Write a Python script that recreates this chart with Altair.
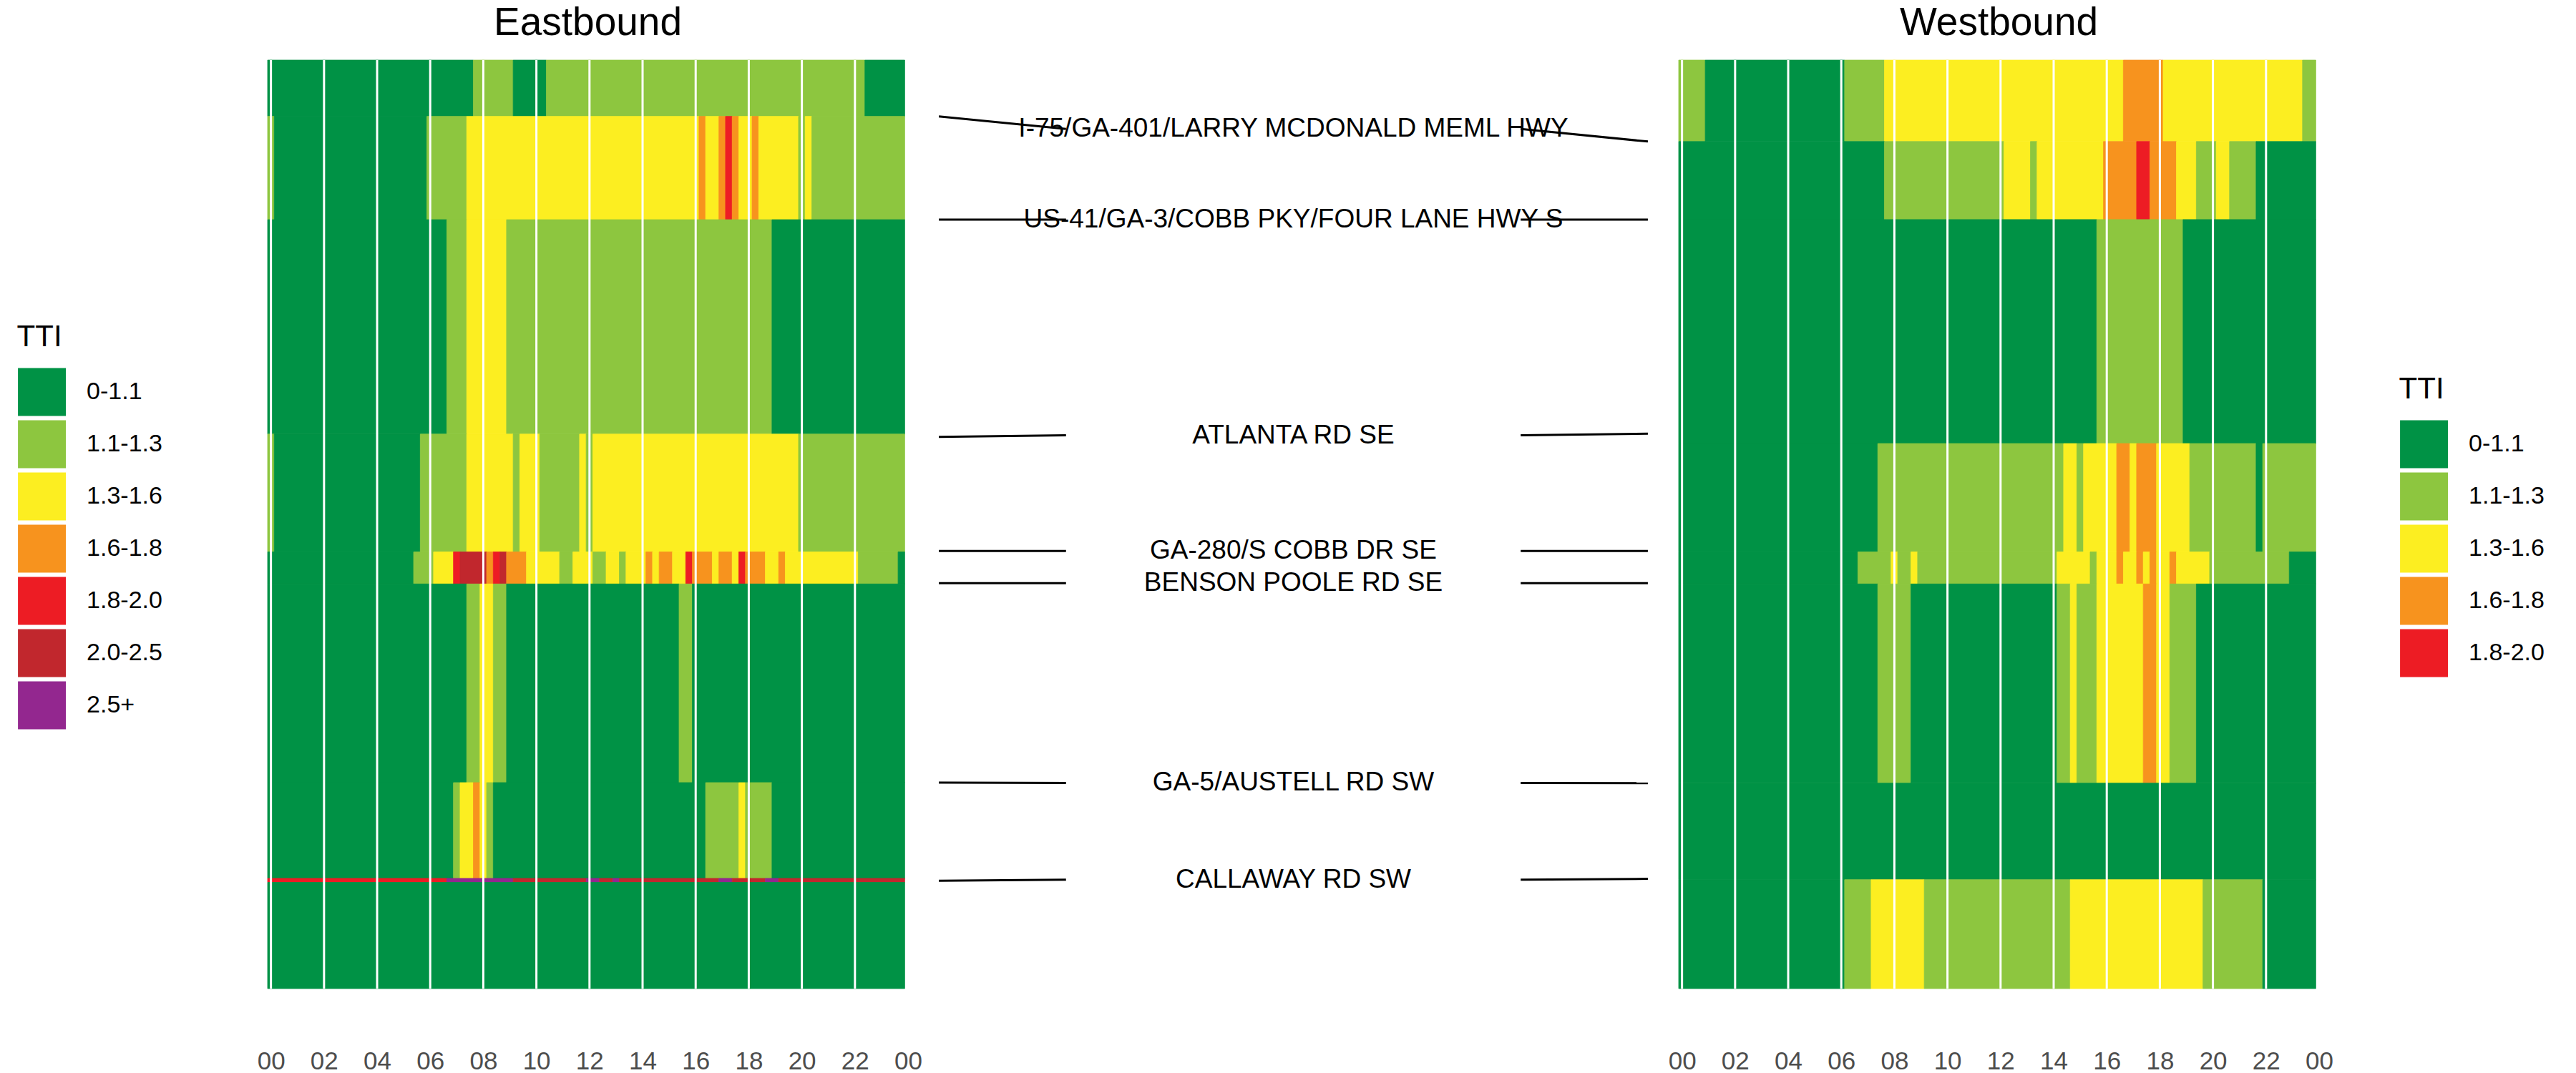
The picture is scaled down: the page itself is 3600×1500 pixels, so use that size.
import altair as alt
import pandas as pd

# ---------------- data ----------------
LEVELS = ["0-1.1", "1.1-1.3", "1.3-1.6", "1.6-1.8", "1.8-2.0", "2.0-2.5", "2.5+"]
COLORS = ["#009245", "#8DC63F", "#FCEE21", "#F7931E", "#ED1C24", "#C1272D", "#93278F"]

# segment boundaries (miles along corridor, top to bottom)
EB_EDGES = [0, 0.393, 1.115, 2.613, 3.436, 3.66, 5.048, 5.717, 5.745, 6.487]
WB_EDGES = [0, 0.569, 1.114, 2.679, 3.436, 3.66, 5.052, 5.726, 6.487]

# runs of 15-minute intervals starting at 00:00: (TTI level index, number of intervals)
EB_ROW1 = [(0, 31), (1, 6), (0, 5), (1, 48), (0, 6)]
EB_ROW2 = [(1, 1), (0, 23), (1, 6), (2, 35), (3, 1), (2, 2), (3, 1), (4, 1), (3, 1), (2, 2),
           (3, 1), (2, 6), (1, 1), (2, 1), (1, 14)]
EB_ROW3 = [(0, 27), (1, 3), (2, 6), (1, 40), (0, 20)]
EB_ROW4 = [(1, 1), (0, 22), (1, 7), (2, 7), (1, 1), (2, 3), (1, 6), (2, 1), (1, 1), (2, 31), (1, 16)]
EB_ROW5 = [(0, 22), (1, 3), (2, 3), (4, 1), (5, 4), (3, 1), (4, 1), (5, 1), (3, 3), (2, 5), (1, 2),
           (2, 3), (1, 2), (2, 2), (1, 1), (2, 3), (3, 1), (2, 1), (3, 2), (2, 2), (4, 1), (3, 3),
           (2, 1), (3, 2), (2, 1), (4, 1), (3, 3), (2, 2), (3, 1), (2, 11), (1, 6), (0, 1)]
EB_ROW6 = [(0, 30), (1, 2), (2, 2), (1, 2), (0, 26), (1, 2), (0, 32)]
EB_ROW7 = [(0, 28), (1, 1), (2, 2), (3, 1), (2, 1), (1, 1), (0, 32), (1, 5), (2, 1), (1, 4), (0, 20)]
EB_ROW8 = [(4, 27), (6, 10), (5, 11), (6, 2), (5, 2), (6, 1), (5, 15), (6, 2), (5, 5), (6, 2), (5, 19)]
EB_ROW9 = [(0, 96)]
EB_ROWS = [EB_ROW1, EB_ROW2, EB_ROW3, EB_ROW4, EB_ROW5, EB_ROW6, EB_ROW7, EB_ROW8, EB_ROW9]

WB_ROW1 = [(1, 4), (0, 21), (1, 6), (2, 36), (3, 6), (2, 21), (1, 2)]
WB_ROW2 = [(0, 31), (1, 18), (2, 4), (1, 1), (2, 10), (3, 5), (4, 2), (3, 4), (2, 3), (1, 3),
           (2, 2), (1, 4), (0, 9)]
WB_ROW3 = [(0, 63), (1, 13), (0, 20)]
WB_ROW4 = [(0, 30), (1, 28), (2, 2), (1, 1), (2, 5), (3, 2), (2, 1), (3, 3), (2, 5), (1, 10),
           (0, 1), (1, 8)]
WB_ROW5 = [(0, 27), (1, 5), (2, 1), (1, 2), (2, 1), (1, 21), (2, 5), (1, 1), (2, 3), (3, 1),
           (2, 2), (3, 1), (2, 1), (3, 1), (2, 2), (3, 1), (2, 5), (1, 12), (0, 4)]
WB_ROW6 = [(0, 30), (1, 5), (0, 22), (1, 2), (2, 1), (1, 3), (2, 7), (3, 2), (2, 2), (1, 4), (0, 18)]
WB_ROW7 = [(0, 96)]
WB_ROW8 = [(0, 25), (1, 4), (2, 8), (1, 22), (2, 20), (1, 9), (0, 8)]
WB_ROWS = [WB_ROW1, WB_ROW2, WB_ROW3, WB_ROW4, WB_ROW5, WB_ROW6, WB_ROW7, WB_ROW8]

HOUR_LINES = [0, 2, 4, 6, 8, 10, 12, 14, 16, 18, 20, 22]
HOUR_TICKS = [0, 2, 4, 6, 8, 10, 12, 14, 16, 18, 20, 22, 24]

CROSS_STREETS = ["I-75/GA-401/LARRY MCDONALD MEML HWY", "US-41/GA-3/COBB PKY/FOUR LANE HWY S",
                 "ATLANTA RD SE", "GA-280/S COBB DR SE", "BENSON POOLE RD SE",
                 "GA-5/AUSTELL RD SW", "CALLAWAY RD SW"]
EB_POS = [0.393, 1.115, 2.633, 3.43, 3.655, 5.048, 5.733]
WB_POS = [0.569, 1.114, 2.61, 3.43, 3.655, 5.052, 5.72]

# ---------------- style ----------------
FONT = "Liberation Sans"
PANEL_W, PANEL_H, MID_W = 895, 1298, 1077
BIN_H = 0.25
X_DOMAIN = [-0.125, 24]
Y_DOMAIN = [0, 6.487]
SEG_OUT, SEG_IN = 0.92, 0.59


def tiles_frame(rows, edges):
    recs = []
    for r, runs in enumerate(rows):
        start = 0
        for lvl, n in runs:
            recs.append({"x0": start * BIN_H - BIN_H / 2, "x1": (start + n) * BIN_H - BIN_H / 2,
                         "y0": edges[r], "y1": edges[r + 1], "tti": LEVELS[lvl]})
            start += n
    return pd.DataFrame(recs)


def panel(rows, edges, levels, colors, title, lx, ly):
    df = tiles_frame(rows, edges)
    x_axis = alt.Axis(values=HOUR_TICKS,
                      labelExpr="datum.value == 24 ? '00' : (datum.value < 10 ? '0' + datum.value : '' + datum.value)",
                      labelFontSize=35, labelFont=FONT, labelColor="#4D4D4D", ticks=False, tickSize=0,
                      domain=False, grid=False, labelPadding=84, labelFlush=False, labelOverlap=False,
                      title=None, labelAngle=0)
    legend = alt.Legend(title="TTI", orient="none", legendX=lx, legendY=ly, direction="vertical",
                        titleFontSize=42, titleFont=FONT, titleFontWeight="normal", titleColor="black",
                        titlePadding=20, titleAnchor="start",
                        labelFontSize=34, labelFont=FONT, labelColor="black", labelOffset=27.5,
                        symbolType="square", symbolSize=4692, symbolStrokeColor="white",
                        symbolStrokeWidth=1.5, symbolOpacity=1, rowPadding=-5.8, padding=0)
    cscale = alt.Scale(domain=levels, range=colors)
    tiles = alt.Chart(df).mark_rect(strokeWidth=0.8).encode(
        x=alt.X("x0:Q", scale=alt.Scale(domain=X_DOMAIN, nice=False, zero=False), axis=x_axis),
        x2="x1:Q",
        y=alt.Y("y0:Q", scale=alt.Scale(domain=Y_DOMAIN, reverse=True, nice=False, zero=False), axis=None),
        y2="y1:Q",
        color=alt.Color("tti:N", scale=cscale, legend=legend),
        stroke=alt.Stroke("tti:N", scale=cscale, legend=None),
    )
    vlines = alt.Chart(pd.DataFrame({"h": HOUR_LINES})).mark_rule(color="white", strokeWidth=3).encode(
        x=alt.X("h:Q")
    )
    return alt.layer(tiles, vlines).properties(
        width=PANEL_W, height=PANEL_H,
        title=alt.Title(title, fontSize=55, font=FONT, fontWeight="normal", color="black",
                        anchor="middle", frame="group", baseline="alphabetic", offset=-21),
    )


east = panel(EB_ROWS, EB_EDGES, LEVELS, COLORS, "Eastbound", -350.4, 367)
west = panel(WB_ROWS, WB_EDGES, LEVELS[:5], COLORS[:5], "Westbound", 1006.6, 440)

mid_df = pd.DataFrame({"name": CROSS_STREETS, "eb": EB_POS, "wb": WB_POS})
mid_df["mid"] = (mid_df["eb"] + mid_df["wb"]) / 2
mid_df["xc"] = 0.0
mid_df["l0"] = -SEG_OUT
mid_df["l1"] = -SEG_IN
mid_df["r0"] = SEG_IN
mid_df["r1"] = SEG_OUT

mx = alt.Scale(domain=[-1, 1], nice=False, zero=False)
my = alt.Scale(domain=Y_DOMAIN, reverse=True, nice=False, zero=False)
left_seg = alt.Chart(mid_df).mark_rule(color="black", strokeWidth=3).encode(
    x=alt.X("l0:Q", scale=mx, axis=None), x2="l1:Q",
    y=alt.Y("eb:Q", scale=my, axis=None), y2="mid:Q")
right_seg = alt.Chart(mid_df).mark_rule(color="black", strokeWidth=3).encode(
    x=alt.X("r0:Q", scale=mx, axis=None), x2="r1:Q",
    y=alt.Y("mid:Q", scale=my, axis=None), y2="wb:Q")
labels = alt.Chart(mid_df).mark_text(font=FONT, fontSize=37, color="black", align="center",
                                     baseline="middle").encode(
    x=alt.X("xc:Q", scale=mx, axis=None), y=alt.Y("mid:Q", scale=my, axis=None), text="name:N")
middle = alt.layer(left_seg, right_seg, labels).properties(width=MID_W, height=PANEL_H)

chart = alt.hconcat(east, middle, west, spacing=0, bounds="flush").resolve_scale(
    color="independent", x="independent", y="independent"
).configure_view(stroke=None).properties(
    padding={"left": 23, "top": 4, "right": 0, "bottom": 0}, background="white"
)

chart.save("out.html", embed_options={"renderer": "svg", "actions": False})
